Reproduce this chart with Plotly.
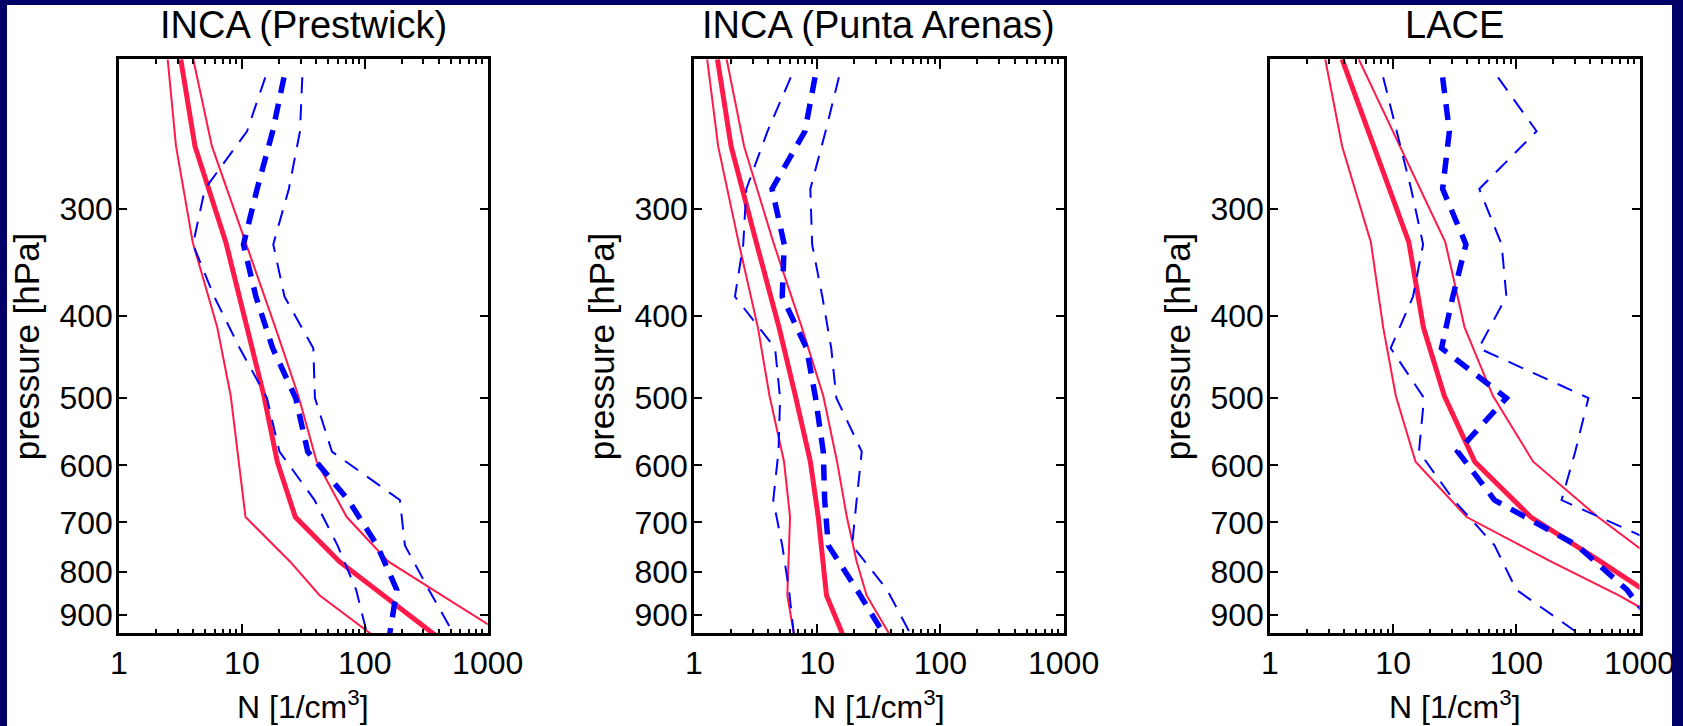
import plotly.graph_objects as go

# Pressure levels (hPa) of the two kinds of profiles
red_levels = [200, 253, 328, 413, 497, 594, 690, 778, 853, 950]
blue_levels = [210, 243, 284, 330, 380, 437, 500, 578, 659, 745, 840, 955]

panel_titles = ["INCA (Prestwick)", "INCA (Punta Arenas)", "LACE"]

# INCA (Prestwick): number concentration N [1/cm3]
pw_red_lo = [2.49, 2.91, 3.98, 6.3, 8.11, 9.41, 10.7, 24.6, 43, 116]
pw_red_med = [3.18, 4.15, 7.4, 10.9, 15.1, 19.4, 27.2, 62, 140, 375]
pw_red_hi = [4.02, 5.7, 10.7, 18.7, 28.8, 40.6, 71.3, 155, 424, 1390]
pw_blue_lo = [15.5, 11.0, 5.0, 4.0, 5.95, 9.6, 16.0, 20.2, 39, 60, 85, 106]
pw_blue_med = [22, 17.8, 13.3, 10.3, 13.0, 17.8, 27.4, 34.3, 73.4, 126, 182, 158]
pw_blue_hi = [31, 29.7, 24.1, 18.0, 22.2, 38.1, 39.3, 54, 193, 212, 332, 547]

# INCA (Punta Arenas)
pa_red_lo = [1.28, 1.57, 2.3, 3.3, 4.1, 5.38, 6.02, 5.85, 5.72, 6.5]
pa_red_med = [1.55, 2.0, 3.2, 4.9, 6.65, 8.8, 10.2, 11.2, 11.9, 16.2]
pa_red_hi = [1.84, 2.55, 4.4, 7.5, 11.2, 14.5, 17.4, 20.9, 25.2, 39]
pa_blue_lo = [6.1, 3.95, 2.66, 2.51, 2.15, 4.55, 5.0, 4.85, 4.4, 5.2, 5.9, 6.5]
pa_blue_med = [9.6, 7.95, 4.3, 5.4, 5.2, 8.2, 9.7, 11.2, 11.5, 12.3, 21, 36]
pa_blue_hi = [15, 11.7, 8.8, 9.1, 11.0, 13.0, 14.3, 23, 20.9, 19.2, 36.9, 59]

# LACE
la_red_lo = [2.81, 3.85, 6.59, 8.3, 10.5, 15.2, 39.5, 190, 679, 2580]
la_red_med = [3.85, 6.9, 13.4, 17.6, 26.0, 46, 131, 481, 1270, None]
la_red_hi = [5.26, 11.4, 26.5, 38, 64.5, 137, 460, 1400, None, None]
la_blue_lo = [8.3, 10.7, 14.0, 17.5, 14.5, 9.55, 17.8, 16.2, 31, 66.5, 100, 352]
la_blue_med = [25.2, 28.6, 25.2, 39, 30.5, 24.7, 83, 33.4, 66.5, 311, 790, 1575]
la_blue_hi = [71, 146, 50, 76, 83, 49.5, 385, 301, 233, 1535, None, None]

panels = [
    (pw_red_lo, pw_red_med, pw_red_hi, pw_blue_lo, pw_blue_med, pw_blue_hi),
    (pa_red_lo, pa_red_med, pa_red_hi, pa_blue_lo, pa_blue_med, pa_blue_hi),
    (la_red_lo, la_red_med, la_red_hi, la_blue_lo, la_blue_med, la_blue_hi),
]

x_ticks = [1, 10, 100, 1000]
x_ticktext = ["1", "10", "100", "1000"]
x_minor = [m * d for d in (1, 10, 100) for m in range(2, 10)]
p_ticks = [300, 400, 500, 600, 700, 800, 900]

W, H = 1683, 726
NAVY = "#000068"
RED = "#FF1A4A"
BLUE = "#0000FF"
FONT = "Liberation Sans, Arial, Helvetica, sans-serif"

# panel frames in pixels: left, right; common top/bottom
frames = [(119, 487.7), (694, 1063.6), (1270, 1639.5)]
top_px, bot_px = 59.3, 633.3

fig = go.Figure()

for i, (r_lo, r_med, r_hi, b_lo, b_med, b_hi) in enumerate(panels):
    ax = "" if i == 0 else str(i + 1)
    xa, ya = "x" + ax, "y" + ax
    for vals, w in ((r_lo, 2), (r_hi, 2), (r_med, 5)):
        fig.add_trace(go.Scatter(x=vals, y=red_levels, mode="lines",
                                 line=dict(color=RED, width=w),
                                 xaxis=xa, yaxis=ya, showlegend=False))
    for vals, w in ((b_lo, 2), (b_hi, 2), (b_med, 5.5)):
        fig.add_trace(go.Scatter(x=vals, y=blue_levels, mode="lines",
                                 line=dict(color=BLUE, width=w, dash="16px,11px"),
                                 xaxis=xa, yaxis=ya, showlegend=False))

    l, r = frames[i]
    xdom = [l / W, r / W]
    ydom = [1 - bot_px / H, 1 - top_px / H]
    fig.layout["xaxis" + ax] = dict(
        type="log", range=[0, 3], domain=xdom, anchor=ya, automargin=False,
        tickvals=x_ticks, ticktext=x_ticktext,
        ticks="inside", ticklen=10, tickwidth=2, tickcolor="black",
        minor=dict(tickvals=x_minor, ticks="inside", ticklen=5,
                   tickwidth=2, tickcolor="black"),
        showline=True, linecolor="black", linewidth=2.5, mirror="allticks",
        showgrid=False, zeroline=False,
        tickfont=dict(family=FONT, size=32, color="black"),
    )
    fig.layout["yaxis" + ax] = dict(
        type="log", range=[2.97543, 2.30103], domain=ydom, anchor=xa,
        automargin=False,
        tickvals=p_ticks, ticktext=[str(v) for v in p_ticks],
        ticks="inside", ticklen=8, tickwidth=2, tickcolor="black",
        showline=True, linecolor="black", linewidth=2.5, mirror="allticks",
        showgrid=False, zeroline=False,
        tickfont=dict(family=FONT, size=32, color="black"),
        ticklabelstandoff=-3,
    )

    cx = (l + r) / 2 / W
    fig.add_annotation(text=panel_titles[i], x=cx, y=1 - 25 / H,
                       xref="paper", yref="paper", showarrow=False,
                       xanchor="center", yanchor="middle",
                       font=dict(family=FONT, size=38, color="black"))
    fig.add_annotation(text="N [1/cm<sup>3</sup>]", x=cx, y=1 - 705 / H,
                       xref="paper", yref="paper", showarrow=False,
                       xanchor="center", yanchor="middle",
                       font=dict(family=FONT, size=32, color="black"))
    fig.add_annotation(text="pressure [hPa]", x=(l - 93) / W,
                       y=1 - (top_px + bot_px) / 2 / H,
                       xref="paper", yref="paper", showarrow=False,
                       textangle=-90, xanchor="center", yanchor="middle",
                       font=dict(family=FONT, size=35, color="black"))

# dark frame around the page
for x0, x1, y0, y1 in ((0, 7 / W, 0, 1), (0, 1, 1 - 5 / H, 1), (1672 / W, 1, 0, 1)):
    fig.add_shape(type="rect", xref="paper", yref="paper",
                  x0=x0, x1=x1, y0=y0, y1=y1,
                  fillcolor=NAVY, line=dict(width=0), layer="above")

fig.update_layout(
    template="none",
    width=W, height=H, autosize=False,
    margin=dict(l=0, r=0, t=0, b=0, pad=0, autoexpand=False),
    paper_bgcolor="white", plot_bgcolor="white",
    showlegend=False,
)

fig.write_html(
    "out.html",
    post_script="document.body.style.margin='0';"
                "document.documentElement.style.overflow='hidden';",
)
